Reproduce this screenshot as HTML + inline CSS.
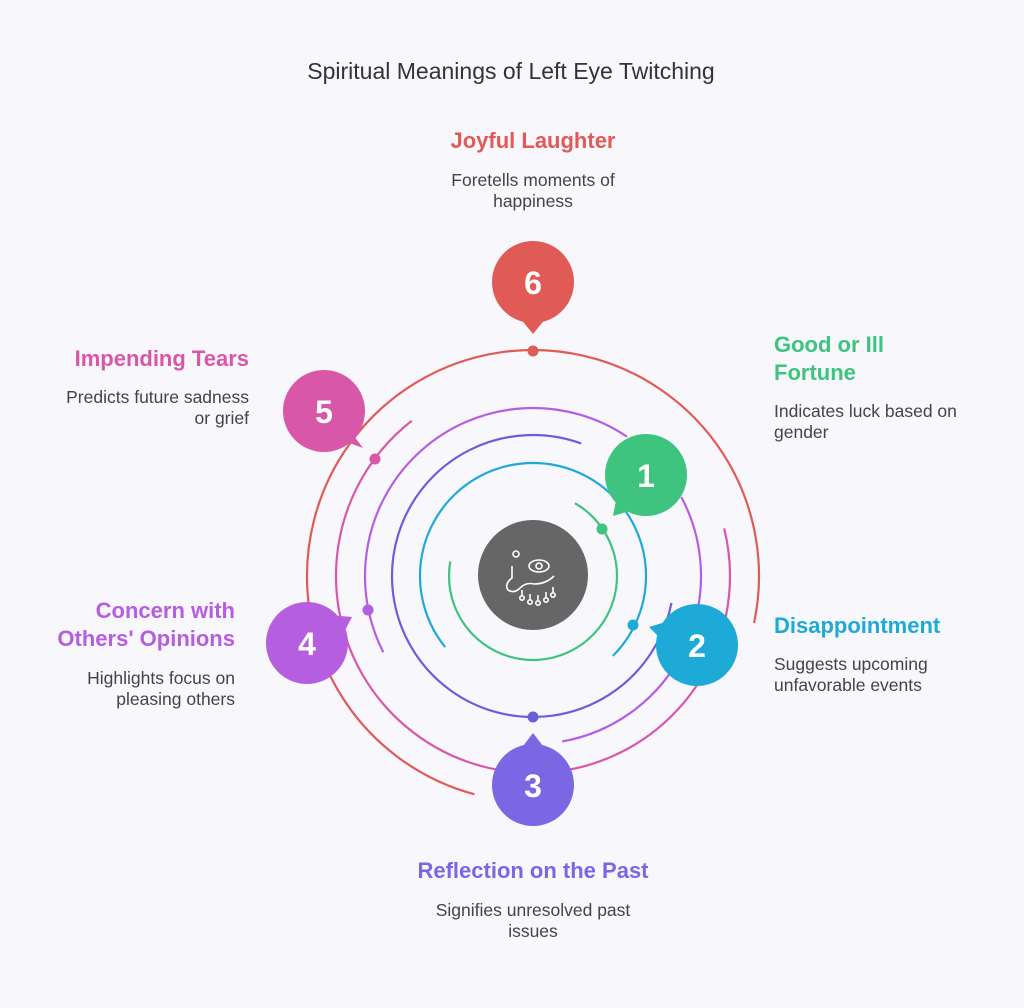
<!DOCTYPE html>
<html><head><meta charset="utf-8"><style>
html,body{margin:0;padding:0;background:#f8f7fc;}
svg{display:block;}
text{font-family:"Liberation Sans",sans-serif;}
.h{font-weight:bold;font-size:22px;}
.b{font-size:17.5px;fill:#444;}
</style></head><body>
<svg width="1024" height="1008" viewBox="0 0 1024 1008" xmlns="http://www.w3.org/2000/svg">
<rect width="1024" height="1008" fill="#f8f7fc"/>
<text x="511" y="79" text-anchor="middle" font-size="23" fill="#333">Spiritual Meanings of Left Eye Twitching</text>
<g fill="none" stroke-width="2.2">
<path id="g" stroke="#3ec47f"/>
<path id="t" stroke="#1eaad6"/>
<path id="i" stroke="#6a5fd8"/>
<path id="pa" stroke="#b65ee0"/>
<path id="pb" stroke="#b65ee0"/>
<path id="pk" stroke="#d957a9"/>
<path id="r" stroke="#e05a56"/>
</g>
<script>
function arc(id,r,a0,a1){var cx=533,cy=576,p=Math.PI/180;
var x0=cx+r*Math.cos(a0*p),y0=cy+r*Math.sin(a0*p),x1=cx+r*Math.cos(a1*p),y1=cy+r*Math.sin(a1*p);
var large=(a1-a0)>180?1:0;
document.getElementById(id).setAttribute('d','M'+x0+' '+y0+' A'+r+' '+r+' 0 '+large+' 1 '+x1+' '+y1);}
arc('g',84,-60,190);arc('t',113,141,405);arc('i',141,11,290);
arc('pa',168,153,304);arc('pb',168,332,440);arc('pk',197,346,592);arc('r',226,105,372);
</script>
<circle cx="602" cy="529" r="5.5" fill="#3ec47f"/>
<circle cx="633" cy="625" r="5.5" fill="#1eaad6"/>
<circle cx="533" cy="717" r="5.5" fill="#6a5fd8"/>
<circle cx="368" cy="610" r="5.5" fill="#b65ee0"/>
<circle cx="375" cy="459" r="5.5" fill="#d957a9"/>
<circle cx="533" cy="351" r="5.5" fill="#e05a56"/>
<circle cx="533" cy="575" r="55" fill="#666"/>
<g fill="none" stroke="#fff" stroke-width="1.6">
<circle cx="516" cy="554" r="3"/>
<ellipse cx="539" cy="566" rx="10" ry="6"/><circle cx="539" cy="566" r="3"/>
<path d="M512 566 v12 q-8 6 -4 12 q6 4 12 -2 q6 -6 14 -4 q12 0 20 -8"/>
<path d="M522 590 v5 M530 594 v5 M538 595 v5 M546 592 v5 M553 587 v5"/>
<circle cx="522" cy="598" r="2.2"/><circle cx="530" cy="602" r="2.2"/><circle cx="538" cy="603" r="2.2"/><circle cx="546" cy="600" r="2.2"/><circle cx="553" cy="595" r="2.2"/>
</g>
<g font-weight="bold" font-size="32" text-anchor="middle" fill="#fff">
<circle cx="533" cy="282" r="41" fill="#e05a56"/><path d="M520 318 L533 334 L546 318Z" fill="#e05a56"/><text x="533" y="294">6</text>
<circle cx="324" cy="411" r="41" fill="#d957a9"/><path d="M345 424 L363 448 L336 438Z" fill="#d957a9"/><text x="324" y="423">5</text>
<circle cx="646" cy="475" r="41" fill="#3ec47f"/><path d="M620 480 L613 516 L640 508Z" fill="#3ec47f"/><text x="646" y="487">1</text>
<circle cx="307" cy="643" r="41" fill="#b65ee0"/><path d="M330 615 L352 617 L340 640Z" fill="#b65ee0"/><text x="307" y="655">4</text>
<circle cx="697" cy="645" r="41" fill="#1eaad6"/><path d="M672 620 L649 627 L670 648Z" fill="#1eaad6"/><text x="697" y="657">2</text>
<circle cx="533" cy="785" r="41" fill="#7b66e3"/><path d="M520 750 L533 733 L546 750Z" fill="#7b66e3"/><text x="533" y="797">3</text>
</g>
<text class="h" x="533" y="148" text-anchor="middle" fill="#e05a56">Joyful Laughter</text>
<text class="b" x="533" y="186" text-anchor="middle">Foretells moments of</text>
<text class="b" x="533" y="207" text-anchor="middle">happiness</text>

<text class="h" x="249" y="366" text-anchor="end" fill="#d957a9">Impending Tears</text>
<text class="b" x="249" y="403" text-anchor="end">Predicts future sadness</text>
<text class="b" x="249" y="424" text-anchor="end">or grief</text>

<text class="h" x="774" y="352" fill="#3ec47f">Good or Ill</text>
<text class="h" x="774" y="380" fill="#3ec47f">Fortune</text>
<text class="b" x="774" y="417">Indicates luck based on</text>
<text class="b" x="774" y="438">gender</text>

<text class="h" x="235" y="618" text-anchor="end" fill="#b65ee0">Concern with</text>
<text class="h" x="235" y="646" text-anchor="end" fill="#b65ee0">Others' Opinions</text>
<text class="b" x="235" y="684" text-anchor="end">Highlights focus on</text>
<text class="b" x="235" y="705" text-anchor="end">pleasing others</text>

<text class="h" x="774" y="633" fill="#1eaad6">Disappointment</text>
<text class="b" x="774" y="670">Suggests upcoming</text>
<text class="b" x="774" y="691">unfavorable events</text>

<text class="h" x="533" y="878" text-anchor="middle" fill="#7b66e3">Reflection on the Past</text>
<text class="b" x="533" y="916" text-anchor="middle">Signifies unresolved past</text>
<text class="b" x="533" y="937" text-anchor="middle">issues</text>
</svg>
</body></html>
